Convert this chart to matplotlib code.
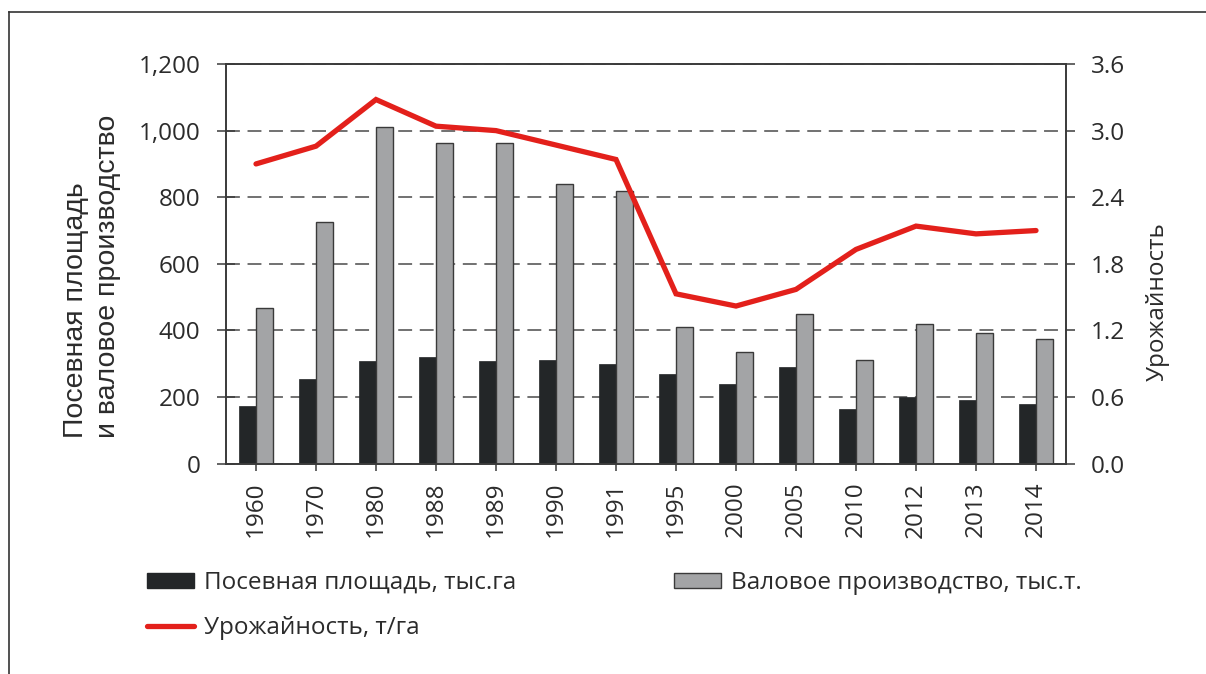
import numpy as np
import matplotlib
matplotlib.use("Agg")
import matplotlib.pyplot as plt
from matplotlib.lines import Line2D
from matplotlib.patches import Patch
from matplotlib.ticker import StrMethodFormatter, FixedLocator

# Chart data.
years = ["1960", "1970", "1980", "1988", "1989", "1990", "1991",
         "1995", "2000", "2005", "2010", "2012", "2013", "2014"]
sown_area = [173, 254, 308, 320, 308, 310, 298, 270, 240, 290, 164, 201, 191, 179]
gross_output = [466, 725, 1010, 962, 962, 841, 818, 410, 336, 448, 311, 418, 393, 373]
crop_yield = [2.70, 2.86, 3.28, 3.04, 3.00, 2.87, 2.74, 1.53, 1.42, 1.57, 1.93, 2.14, 2.07, 2.10]

DARK = "#232628"
GRAY = "#a3a4a6"
RED = "#e3201b"
INK = "#2b2b2b"
SPINE = "#3a3a3a"

plt.rcParams["font.family"] = ["Open Sans", "DejaVu Sans"]
plt.rcParams["lines.scale_dashes"] = False

W, H = 1206, 674
fig = plt.figure(figsize=(W / 100, H / 100), dpi=100)
fig.patch.set_facecolor("white")

# Axes box measured in pixels: left 226, right 1066, top 64, bottom 463.7
ax = fig.add_axes([226 / W, (H - 463.7) / H, 840 / W, 399.7 / H])
ax2 = ax.twinx()

x = np.arange(len(years))
w = 0.29
ax.bar(x - w / 2, sown_area, width=w, color=DARK, edgecolor=DARK, linewidth=0.5, zorder=2)
ax.bar(x + w / 2, gross_output, width=w, color=GRAY, edgecolor=SPINE, linewidth=1.0, zorder=2)
ax2.plot(x, crop_yield, color=RED, linewidth=3.8, solid_joinstyle="miter", solid_capstyle="round")

ax.set_xlim(-0.5, len(years) - 0.5)
ax.set_ylim(0, 1200)
ax2.set_ylim(0, 3.6)
ax.yaxis.set_major_locator(FixedLocator(np.arange(0, 1201, 200)))
ax2.yaxis.set_major_locator(FixedLocator(np.arange(0, 3.61, 0.6)))
ax.yaxis.set_major_formatter(StrMethodFormatter("{x:,.0f}"))
ax2.yaxis.set_major_formatter(StrMethodFormatter("{x:.1f}"))

ax.set_axisbelow(True)
ax.yaxis.grid(True, color="#4a4a4a", linewidth=1.1, linestyle=(0, (10, 5.5)))

ax.set_xticks(x)
ax.set_xticklabels(years, rotation=90)

for a in (ax, ax2):
    for s in a.spines.values():
        s.set_color(SPINE)
        s.set_linewidth(1.2)

ax.tick_params(axis="y", direction="inout", length=13, width=1.1, color=SPINE,
               pad=12, labelsize=17.5, labelcolor=INK)
ax.tick_params(axis="x", direction="out", length=5, width=1.1, color=SPINE,
               pad=8, labelsize=17.5, labelcolor=INK)
ax2.tick_params(axis="y", direction="out", length=6.3, width=1.1, color=SPINE,
                pad=11.7, labelsize=17.5, labelcolor=INK)

# Axis titles placed in figure coordinates
fig.text(92 / W, (H - 438) / H, "Посевная площадь\nи валовое производство",
         rotation=90, ha="center", va="bottom", multialignment="left",
         fontsize=20.5, family="Liberation Sans", color=INK, linespacing=1.3)
fig.text(1158 / W, (H - 302) / H, "Урожайность", rotation=90,
         ha="center", va="center", fontsize=17.5, color=INK)

handles = [
    Patch(facecolor=DARK, edgecolor=DARK, label="Посевная площадь, тыс.га"),
    Line2D([], [], color=RED, linewidth=3.8, solid_capstyle="round", label="Урожайность, т/га"),
    Patch(facecolor=GRAY, edgecolor=SPINE, linewidth=1.0, label="Валовое производство, тыс.т."),
]
fig.legend(handles=handles, ncol=2, loc="upper left",
           bbox_to_anchor=(147 / W, (H - 571) / H), frameon=False,
           fontsize=17.5, handlelength=1.93, handleheight=0.58, handletextpad=0.41,
           columnspacing=6.5, labelspacing=0.88, borderpad=0, borderaxespad=0,
           labelcolor=INK)

# Thin frame on the left and top edges of the picture
fig.add_artist(Line2D([8.5 / W, 8.5 / W], [0, (H - 12) / H], color="#333333", linewidth=1.2))
fig.add_artist(Line2D([8.5 / W, 1], [(H - 12) / H, (H - 12) / H], color="#333333", linewidth=1.2))

fig.savefig("out.png", dpi=100, facecolor="white")
